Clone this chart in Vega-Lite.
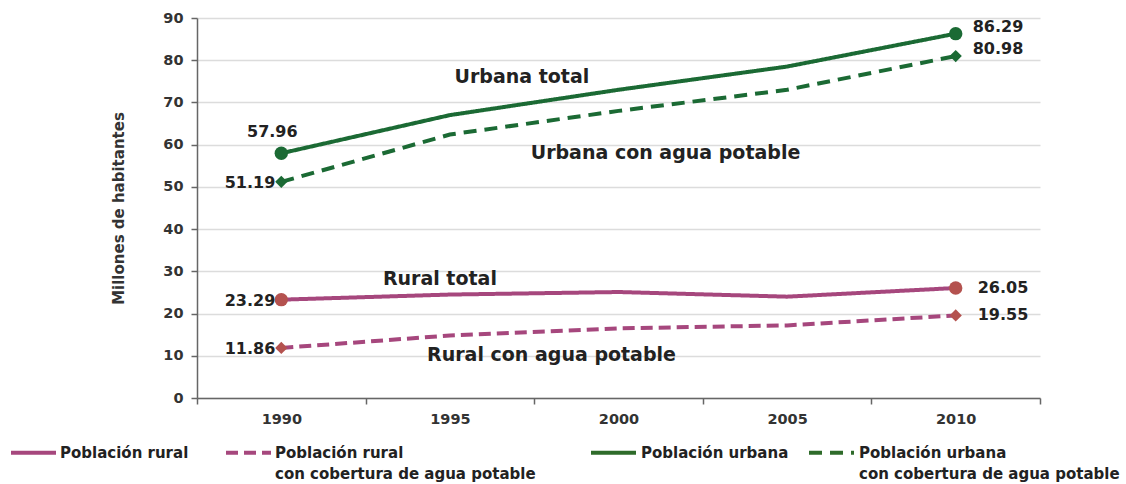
{
  "$schema": "https://vega.github.io/schema/vega-lite/v6.json",
  "width": 843,
  "height": 380,
  "autosize": {"type": "none"},
  "padding": {"left": 197, "top": 18, "right": 86, "bottom": 86},
  "background": "white",
  "config": {
    "font": "DejaVu Sans",
    "view": {"stroke": null},
    "axis": {
      "labelFont": "DejaVu Sans",
      "labelFontWeight": "bold",
      "labelFontSize": 14.5,
      "labelColor": "#333333",
      "domainColor": "#666666",
      "domainWidth": 1.5,
      "tickColor": "#666666",
      "tickWidth": 1.5,
      "tickSize": 6,
      "gridColor": "#dcdcdc",
      "gridWidth": 1.5
    }
  },
  "data": {
    "values": [
      {"anio": "1990", "serie": "rural", "grupo": "rural", "tipo": "total", "valor": 23.29},
      {"anio": "1995", "serie": "rural", "grupo": "rural", "tipo": "total", "valor": 24.5},
      {"anio": "2000", "serie": "rural", "grupo": "rural", "tipo": "total", "valor": 25.1},
      {"anio": "2005", "serie": "rural", "grupo": "rural", "tipo": "total", "valor": 24.0},
      {"anio": "2010", "serie": "rural", "grupo": "rural", "tipo": "total", "valor": 26.05},
      {"anio": "1990", "serie": "rural_agua", "grupo": "rural", "tipo": "agua", "valor": 11.86},
      {"anio": "1995", "serie": "rural_agua", "grupo": "rural", "tipo": "agua", "valor": 14.8},
      {"anio": "2000", "serie": "rural_agua", "grupo": "rural", "tipo": "agua", "valor": 16.5},
      {"anio": "2005", "serie": "rural_agua", "grupo": "rural", "tipo": "agua", "valor": 17.2},
      {"anio": "2010", "serie": "rural_agua", "grupo": "rural", "tipo": "agua", "valor": 19.55},
      {"anio": "1990", "serie": "urbana", "grupo": "urbana", "tipo": "total", "valor": 57.96},
      {"anio": "1995", "serie": "urbana", "grupo": "urbana", "tipo": "total", "valor": 67.0},
      {"anio": "2000", "serie": "urbana", "grupo": "urbana", "tipo": "total", "valor": 73.0},
      {"anio": "2005", "serie": "urbana", "grupo": "urbana", "tipo": "total", "valor": 78.5},
      {"anio": "2010", "serie": "urbana", "grupo": "urbana", "tipo": "total", "valor": 86.29},
      {"anio": "1990", "serie": "urbana_agua", "grupo": "urbana", "tipo": "agua", "valor": 51.19},
      {"anio": "1995", "serie": "urbana_agua", "grupo": "urbana", "tipo": "agua", "valor": 62.4},
      {"anio": "2000", "serie": "urbana_agua", "grupo": "urbana", "tipo": "agua", "valor": 68.0},
      {"anio": "2005", "serie": "urbana_agua", "grupo": "urbana", "tipo": "agua", "valor": 73.0},
      {"anio": "2010", "serie": "urbana_agua", "grupo": "urbana", "tipo": "agua", "valor": 80.98}
    ]
  },
  "encoding": {
    "x": {
      "field": "anio",
      "type": "ordinal",
      "scale": {"type": "band", "paddingInner": 0, "paddingOuter": 0},
      "axis": {"title": null, "labelAngle": 0, "tickBand": "extent", "labelPadding": 8, "grid": false}
    },
    "y": {
      "field": "valor",
      "type": "quantitative",
      "scale": {"domain": [0, 90], "nice": false},
      "axis": {
        "title": "Millones de habitantes",
        "titleFont": "DejaVu Sans",
        "titleFontSize": 15,
        "titleFontWeight": "bold",
        "titleColor": "#333333",
        "titlePadding": 36,
        "values": [0, 10, 20, 30, 40, 50, 60, 70, 80, 90],
        "labelPadding": 8,
        "grid": true
      }
    }
  },
  "layer": [
    {
      "transform": [{"filter": "datum.grupo == 'rural'"}],
      "mark": {"type": "line", "color": "#a6477d", "strokeWidth": 4},
      "encoding": {
        "strokeDash": {
          "field": "serie",
          "type": "nominal",
          "scale": {"domain": ["rural", "rural_agua"], "range": [[1, 0], [12, 6]]},
          "legend": {
            "title": null,
            "orient": "none",
            "legendX": -188,
            "legendY": 410,
            "direction": "horizontal",
            "symbolType": "stroke",
            "symbolSize": 2025,
            "symbolStrokeWidth": 4,
            "symbolStrokeColor": "#a6477d",
            "labelFont": "DejaVu Sans",
            "labelFontWeight": "bold",
            "labelFontSize": 15,
            "labelColor": "#222222",
            "labelOffset": 2,
            "labelLimit": 400,
            "labelBaseline": "middle",
            "columnPadding": 29,
            "labelExpr": "datum.value == 'rural' ? ['Población rural', ' '] : ['Población rural', 'con cobertura de agua potable']",
            "encode": {"labels": {"update": {"lineHeight": {"value": 21}}}}
          }
        }
      }
    },
    {
      "transform": [{"filter": "datum.grupo == 'urbana'"}],
      "mark": {"type": "line", "color": "#1b6a34", "strokeWidth": 4},
      "encoding": {
        "strokeDash": {
          "field": "serie",
          "type": "nominal",
          "scale": {"domain": ["urbana", "urbana_agua"], "range": [[1, 0], [13, 8]]},
          "legend": {
            "title": null,
            "orient": "none",
            "legendX": 392,
            "legendY": 410,
            "direction": "horizontal",
            "symbolType": "stroke",
            "symbolSize": 2025,
            "symbolStrokeWidth": 4,
            "symbolStrokeColor": "#2e6b2a",
            "labelFont": "DejaVu Sans",
            "labelFontWeight": "bold",
            "labelFontSize": 15,
            "labelColor": "#222222",
            "labelOffset": 3,
            "labelLimit": 400,
            "labelBaseline": "middle",
            "columnPadding": 12,
            "labelExpr": "datum.value == 'urbana' ? ['Población urbana', ' '] : ['Población urbana', 'con cobertura de agua potable']",
            "encode": {"labels": {"update": {"lineHeight": {"value": 21}}}}
          }
        }
      }
    },
    {
      "transform": [{"filter": "datum.anio == '1990' || datum.anio == '2010'"}],
      "mark": {"type": "point", "filled": true, "opacity": 1},
      "encoding": {
        "shape": {
          "field": "tipo",
          "type": "nominal",
          "scale": {"domain": ["total", "agua"], "range": ["circle", "diamond"]},
          "legend": null
        },
        "size": {
          "field": "tipo",
          "type": "nominal",
          "scale": {"domain": ["total", "agua"], "range": [180, 150]},
          "legend": null
        },
        "color": {
          "field": "grupo",
          "type": "nominal",
          "scale": {"domain": ["rural", "urbana"], "range": ["#b4524f", "#1b6a34"]},
          "legend": null
        }
      }
    },
    {
      "transform": [{"filter": "datum.anio == '1990' && datum.serie == 'urbana'"}],
      "mark": {"type": "text", "font": "DejaVu Sans", "fontWeight": "bold", "fontSize": 16, "color": "#222222", "align": "center", "baseline": "middle", "dx": -9, "dy": -21},
      "encoding": {"text": {"field": "valor", "type": "quantitative", "format": ".2f"}}
    },
    {
      "transform": [{"filter": "datum.anio == '1990' && datum.serie != 'urbana'"}],
      "mark": {"type": "text", "font": "DejaVu Sans", "fontWeight": "bold", "fontSize": 16, "color": "#222222", "align": "right", "baseline": "middle", "dx": -6, "dy": 1},
      "encoding": {"text": {"field": "valor", "type": "quantitative", "format": ".2f"}}
    },
    {
      "transform": [{"filter": "datum.anio == '2010' && datum.grupo == 'urbana'"}],
      "mark": {"type": "text", "font": "DejaVu Sans", "fontWeight": "bold", "fontSize": 16, "color": "#222222", "align": "left", "baseline": "middle", "dx": 17, "dy": -7},
      "encoding": {"text": {"field": "valor", "type": "quantitative", "format": ".2f"}}
    },
    {
      "transform": [{"filter": "datum.anio == '2010' && datum.grupo == 'rural'"}],
      "mark": {"type": "text", "font": "DejaVu Sans", "fontWeight": "bold", "fontSize": 16, "color": "#222222", "align": "left", "baseline": "middle", "dx": 22, "dy": 0},
      "encoding": {"text": {"field": "valor", "type": "quantitative", "format": ".2f"}}
    },
    {
      "data": {"values": [{"anio": "1995", "valor": 76.1, "texto": "Urbana total"}]},
      "mark": {"type": "text", "font": "DejaVu Sans", "fontWeight": "bold", "fontSize": 19, "color": "#222222", "align": "center", "baseline": "middle", "dx": 72},
      "encoding": {"text": {"field": "texto"}}
    },
    {
      "data": {"values": [{"anio": "2000", "valor": 58.1, "texto": "Urbana con agua potable"}]},
      "mark": {"type": "text", "font": "DejaVu Sans", "fontWeight": "bold", "fontSize": 19, "color": "#222222", "align": "center", "baseline": "middle", "dx": 47},
      "encoding": {"text": {"field": "texto"}}
    },
    {
      "data": {"values": [{"anio": "1995", "valor": 28.1, "texto": "Rural total"}]},
      "mark": {"type": "text", "font": "DejaVu Sans", "fontWeight": "bold", "fontSize": 19, "color": "#222222", "align": "center", "baseline": "middle", "dx": -10},
      "encoding": {"text": {"field": "texto"}}
    },
    {
      "data": {"values": [{"anio": "2000", "valor": 10.2, "texto": "Rural con agua potable"}]},
      "mark": {"type": "text", "font": "DejaVu Sans", "fontWeight": "bold", "fontSize": 19, "color": "#222222", "align": "center", "baseline": "middle", "dx": -67},
      "encoding": {"text": {"field": "texto"}}
    }
  ],
  "resolve": {"scale": {"strokeDash": "independent"}, "legend": {"strokeDash": "independent"}}
}
